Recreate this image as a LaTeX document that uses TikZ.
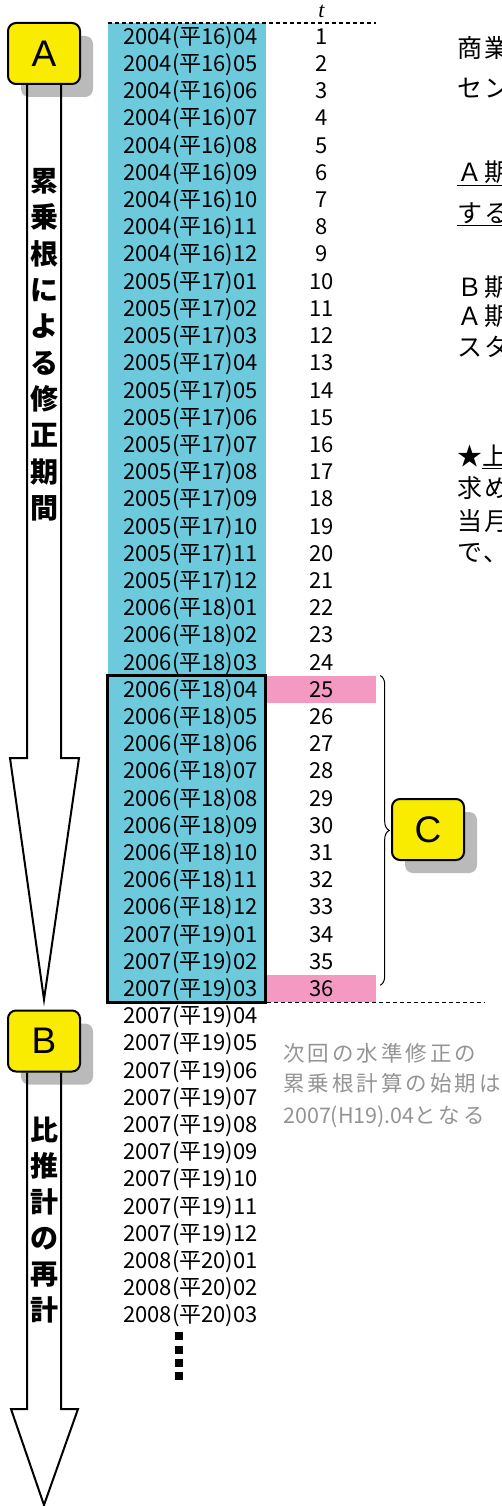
\documentclass[tikz,border=0pt]{standalone}
\usepackage{fontspec}
\setmainfont{Liberation Sans}
\newfontfamily\jp{Noto Sans CJK JP}
\newfontfamily\jpsp[LetterSpace=8]{Noto Sans CJK JP}
\newfontfamily\jpgr[LetterSpace=14]{Noto Sans CJK JP}
\newfontfamily\serif{Liberation Serif}
\usetikzlibrary{backgrounds,shadows,decorations.pathreplacing}
\definecolor{colblue}{RGB}{108,202,220}
\definecolor{colpink}{RGB}{244,154,194}
\definecolor{colyellow}{RGB}{250,236,0}

\begin{document}
\begin{tikzpicture}[x=1pt, y=-1pt,
    datecell/.style={minimum width=158, minimum height=27.2, inner ysep=0, inner xsep=15.5,
      text width=127, align=left, text height=19.8, text depth=4,
      font=\jp\fontsize{22}{22}\selectfont},
    tcell/.style={minimum width=109, minimum height=27.2, inner sep=0,
      text height=19.8, text depth=4, font=\jp\fontsize{22}{22}\selectfont},
    labelbox/.style={draw, line width=2, fill=colyellow, rounded corners=8,
      minimum width=72, minimum height=61, inner sep=0, font=\fontsize{37}{37}\selectfont,
      drop shadow={shadow xshift=13pt, shadow yshift=-13pt, fill=black, opacity=0.27}},
    bigarrow/.style={draw, line width=2, fill=white, line join=miter},
    vchar/.style={inner sep=0, text height=24.6, text depth=3.4,
      font=\jp\bfseries\fontsize{28}{28}\selectfont},
    note/.style={anchor=base west, inner sep=0, font=\jpsp\fontsize{25}{25}\selectfont},
    hint/.style={anchor=base west, inner sep=0, text=black!42,
      font=\jpgr\fontsize{21.5}{21.5}\selectfont},
    dashline/.style={line width=1.8, dash pattern=on 4.5 off 2.5},
  ]
  \clip (0,0) rectangle (502,1506);

  % Boxes
  \node[labelbox] (boxA) at (44,53.5) {A};
  \node[labelbox] (boxB) at (44,1041) {B};
  \node[labelbox] (boxC) at (428,829.5) {C};
  \coordinate (tail) at (44,1505);

  % Dates and t
  \foreach \i in {1,...,48}{
    \pgfmathtruncatemacro{\yr}{2004+floor((\i+2)/12)}
    \pgfmathtruncatemacro{\mo}{mod(\i+2,12)+1}
    \pgfmathtruncatemacro{\hs}{\yr-1988}
    \node[datecell] (d\i) at (186.75,{9.3+27.2*\i}) {\yr(平\hs)\ifnum\mo<10 0\fi\mo};
  }
  \foreach \i in {1,...,36}
    \node[tcell] (t\i) at (321.5,{9.3+27.2*\i}) {\i};
  \node[anchor=south, inner sep=0, font=\serif\itshape\fontsize{22}{22}\selectfont]
    (tlab) at ([yshift=5pt]t1.north) {t};

  % Vertical texts
  \foreach \ch [count=\k] in {累,乗,根,に,よ,る,修,正,期,間}
    \node[vchar] (va\k) at (44,{181+36.3*(\k-1)}) {\ch};
  \foreach \ch [count=\k] in {比,推,計,の,再,計}
    \node[vchar] (vb\k) at (44,{1130+36*(\k-1)}) {\ch};

  % Notes
  \foreach \txt/\yy [count=\k] in {商業/48, セン/88, {\underline{Ａ期}}/172,
      {\underline{する}}/213, Ｂ期/287, Ａ期/316, スタ/347, {★\underline{上}}/456,
      求め/488, 当月/521, で、/552}
    \node[note] (note\k) at (457,\yy+9.5) {\txt};
  \foreach \txt/\yy [count=\k] in {次回の水準修正の/1053, 累乗根計算の始期は/1083,
      {{\jp 2007(H19).04}となる}/1115}
    \node[hint] (hint\k) at (283,\yy+8) {\txt};

  % Background
  \begin{scope}[on background layer]
    \fill[colblue] (d1.north west) rectangle (d36.south east);
    \fill[colpink] (t25.north west) rectangle (t25.south east);
    \fill[colpink] (t36.north west) rectangle (t36.south east);
    \draw[bigarrow] ([xshift=-17pt]boxA.south) |- (10,758) -- ([yshift=10pt]boxB.north)
      -- (79,758) -| ([xshift=17pt]boxA.south);
    \draw[bigarrow] ([xshift=-17pt]boxB.south) |- (11,1409) -- (tail)
      -- (78,1409) -| ([xshift=17pt]boxB.south);
  \end{scope}

  % Lines
  \draw[line width=3] (d25.north west) rectangle (d36.south east);
  \draw[dashline] (d1.north west) -- (t1.north east);
  \draw[dashline, line width=1.3] (t36.south west) -- ++(218,0);
  \draw[line width=8, dash pattern=on 8 off 5.33]
    ([xshift=-7.75pt, yshift=-3.5pt]d48.south) -- ++(0,48);
  \draw[decorate, decoration={brace, amplitude=9pt}, line width=1]
    ([xshift=4pt]t25.north east) -- ([xshift=4pt, yshift=17pt]t36.south east);
\end{tikzpicture}
\end{document}
